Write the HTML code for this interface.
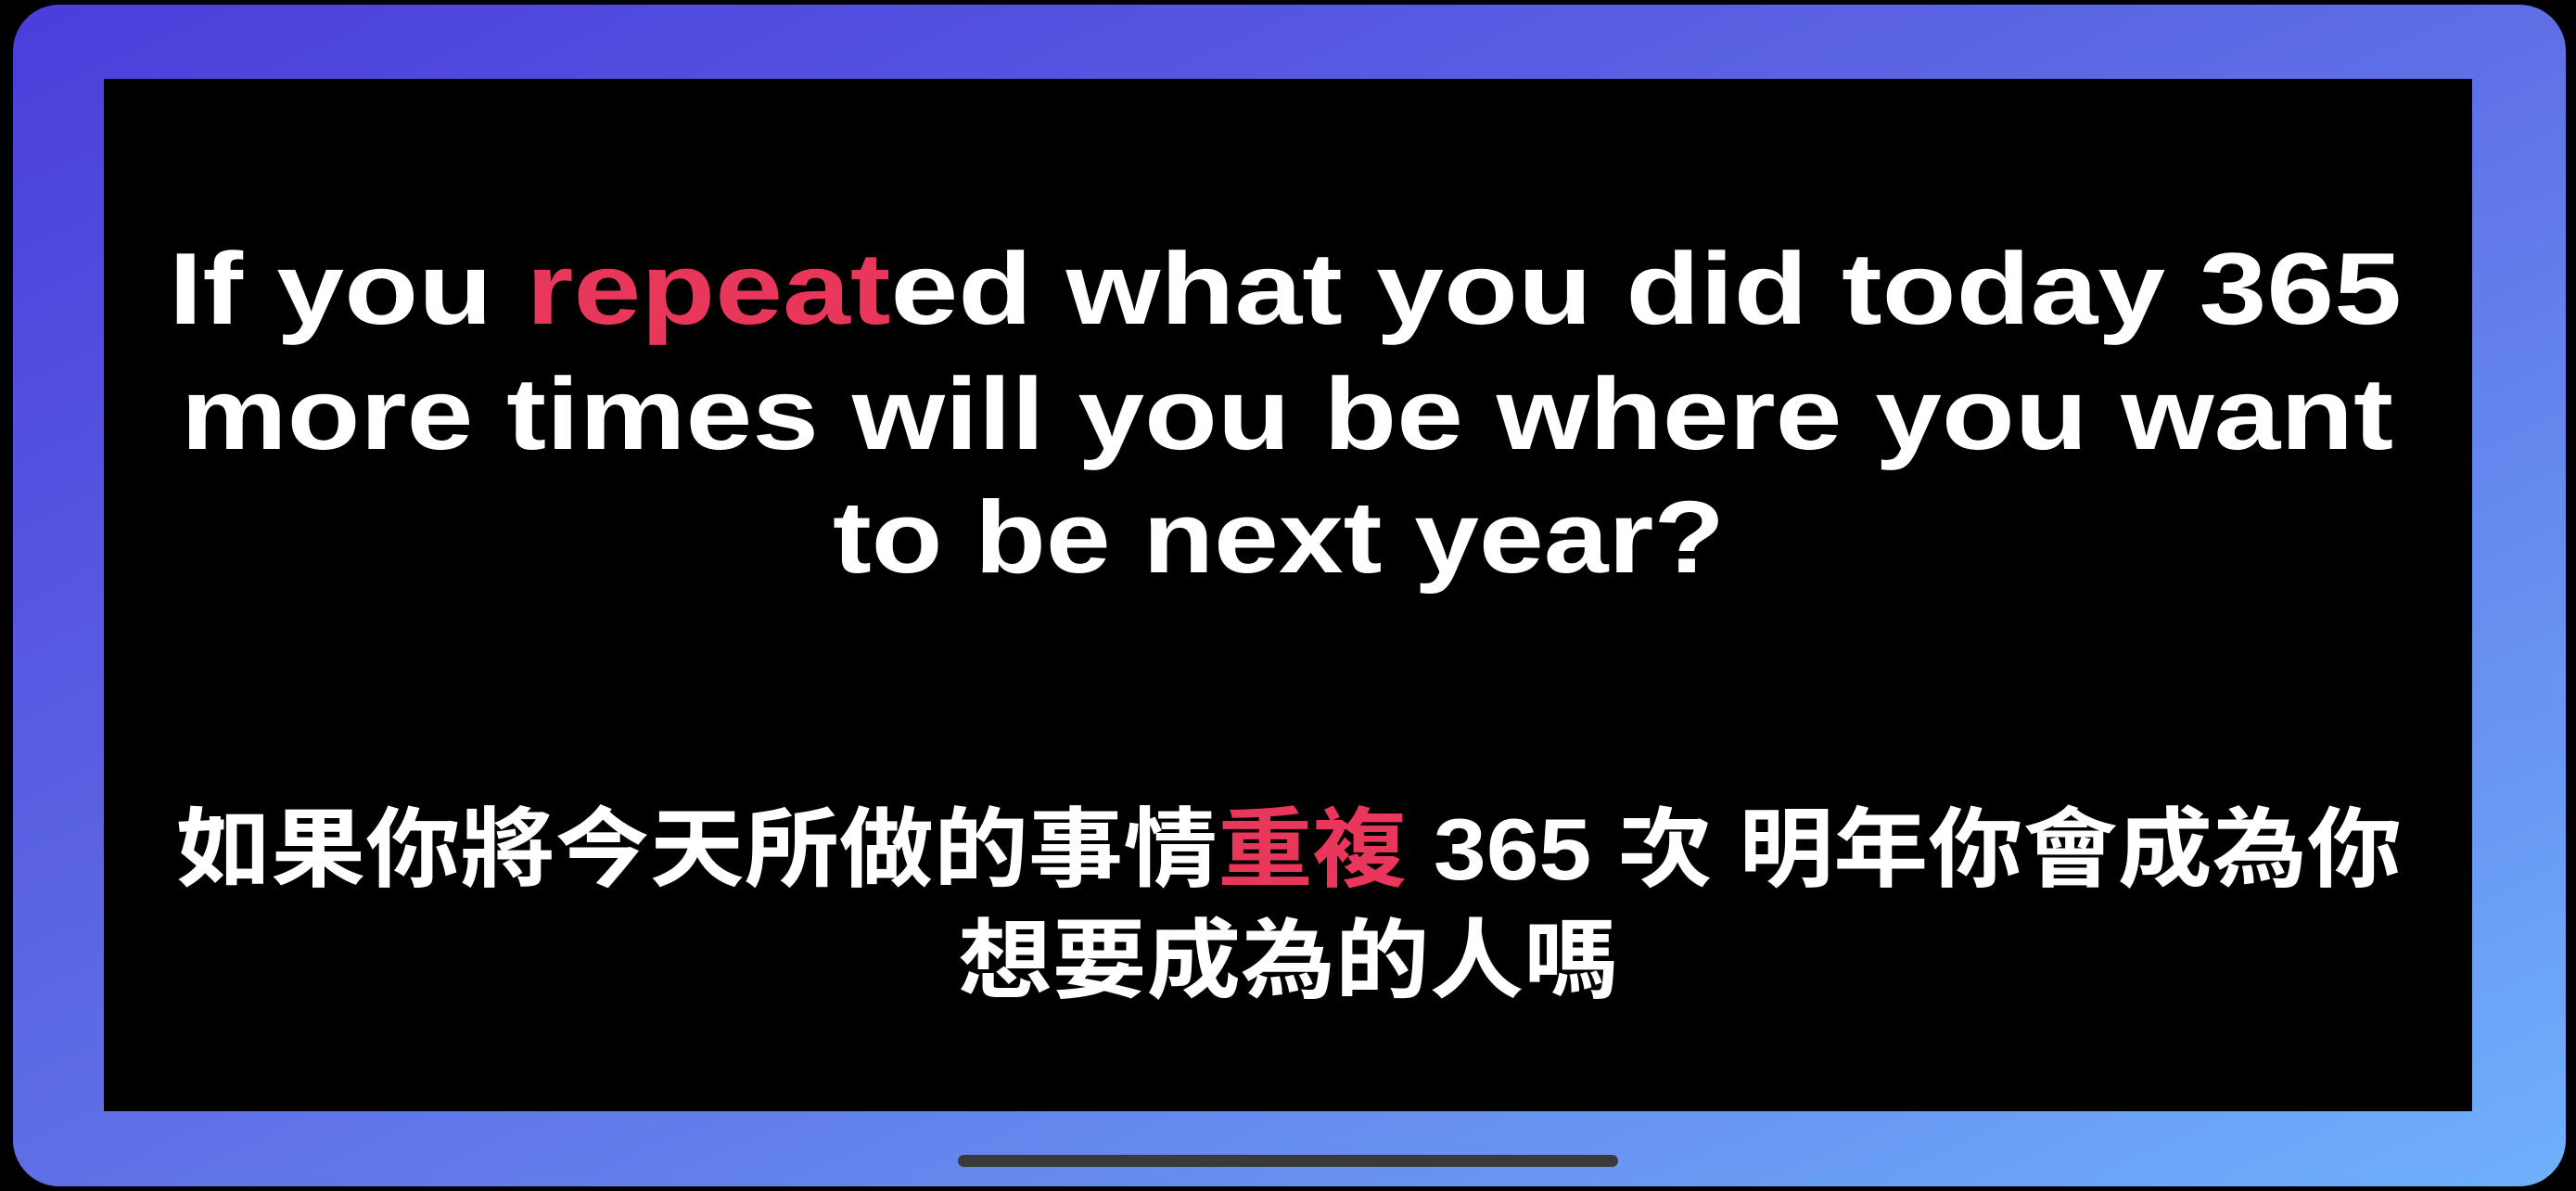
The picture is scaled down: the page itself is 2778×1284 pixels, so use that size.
<!DOCTYPE html>
<html><head><meta charset="utf-8"><style>
html,body{margin:0;padding:0;background:#000;width:2778px;height:1284px;overflow:hidden}
svg{display:block}
</style></head><body>
<svg width="2778" height="1284" viewBox="0 0 2778 1284">
<defs><linearGradient id="g" x1="0" y1="0" x2="1" y2="1">
<stop offset="0" stop-color="#4b3ddb"/><stop offset="0.5" stop-color="#5f6fe6"/><stop offset="1" stop-color="#6fb0fb"/></linearGradient></defs>
<rect x="14" y="5" width="2753" height="1274" rx="50" fill="url(#g)"/>
<rect x="112" y="85" width="2554" height="1113" fill="#000"/>
<g font-family="'Liberation Sans', 'Noto Sans CJK TC', sans-serif" font-weight="bold" fill="#fff">
<text x="182" y="349" font-size="110" textLength="2408" lengthAdjust="spacingAndGlyphs">If you <tspan fill="#e9375c">repeat</tspan>ed what you did today 365</text>
<text x="195" y="484" font-size="110" textLength="2386" lengthAdjust="spacingAndGlyphs">more times will you be where you want</text>
<text x="898" y="617" font-size="110" textLength="962" lengthAdjust="spacingAndGlyphs">to be next year?</text>
<text x="190" y="948" font-size="94" textLength="2400" lengthAdjust="spacingAndGlyphs">如果你將今天所做的事情<tspan fill="#e9375c">重複</tspan> 365 次 明年你會成為你</text>
<text x="1033" y="1068" font-size="94" textLength="712" lengthAdjust="spacingAndGlyphs">想要成為的人嗎</text>
</g>
<rect x="1033" y="1245" width="712" height="13" rx="6.5" fill="#3a3a3a"/>
</svg>
</body></html>
